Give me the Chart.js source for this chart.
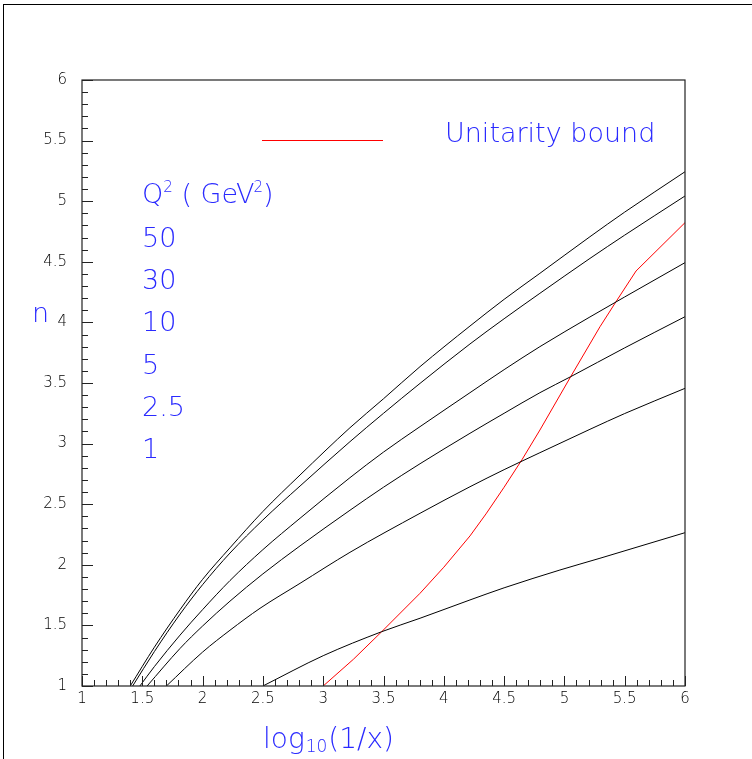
<!DOCTYPE html>
<html><head><meta charset="utf-8">
<script src="https://cdn.jsdelivr.net/npm/chart.js@4/dist/chart.umd.min.js"></script>
<style>html,body{margin:0;padding:0;background:#fff;overflow:hidden}#wrap{width:752px;height:759px;position:relative}</style>
</head><body><div id="wrap"><canvas id="c" width="752" height="759"></canvas></div>
<script>
// ---- data ----
const q50X = [1.40, 1.6, 1.813, 2.0, 2.227, 2.5, 2.808, 3.222, 3.5, 3.803, 4.217, 4.5, 4.797, 5.212, 5.5, 6.0];
const q50Y = [1.00, 1.32, 1.63, 1.88, 2.14, 2.44, 2.741, 3.131, 3.37, 3.635, 3.970, 4.19, 4.405, 4.707, 4.91, 5.243];
const q30X = [1.42, 1.6, 1.813, 2.0, 2.227, 2.5, 2.808, 3.222, 3.5, 3.803, 4.217, 4.5, 4.797, 5.212, 5.5, 6.0];
const q30Y = [1.00, 1.284, 1.593, 1.836, 2.097, 2.37, 2.650, 3.016, 3.25, 3.497, 3.822, 4.03, 4.240, 4.528, 4.72, 5.043];
const q10X = [1.48, 1.6, 1.813, 2.0, 2.227, 2.5, 2.808, 3.222, 3.5, 3.803, 4.217, 4.5, 4.797, 5.212, 5.5, 6.0];
const q10Y = [1.00, 1.16, 1.42, 1.63, 1.87, 2.125, 2.384, 2.719, 2.93, 3.14, 3.42, 3.61, 3.80, 4.045, 4.21, 4.493];
const q5X  = [1.54, 1.813, 2.0, 2.227, 2.5, 2.808, 3.222, 3.5, 3.803, 4.217, 4.5, 4.797, 5.052, 5.5, 6.0];
const q5Y  = [1.00, 1.31, 1.495, 1.70, 1.925, 2.156, 2.45, 2.64, 2.834, 3.085, 3.25, 3.42, 3.552, 3.79, 4.047];
const q25X = [1.70, 2.0, 2.227, 2.476, 2.808, 3.222, 3.803, 4.217, 4.5, 4.797, 5.212, 5.5, 6.0];
const q25Y = [1.00, 1.28, 1.46, 1.641, 1.847, 2.103, 2.425, 2.644, 2.785, 2.925, 3.118, 3.248, 3.456];
const q1X  = [2.5, 3.0, 3.485, 3.803, 4.217, 4.5, 4.963, 5.295, 6.0];
const q1Y  = [1.0, 1.25, 1.448, 1.559, 1.71, 1.81, 1.957, 2.054, 2.265];
const unitX = [3.0, 3.25, 3.485, 3.803, 4.0, 4.217, 4.35, 4.5, 4.65, 4.797, 5.052, 5.295, 5.428, 5.594, 6.0];
const unitY = [1.0, 1.22, 1.448, 1.765, 1.98, 2.238, 2.42, 2.64, 2.87, 3.112, 3.552, 3.964, 4.171, 4.424, 4.823];
const q2Labels = ['50', '30', '10', '5', '2.5', '1'];
const xTicks = [1, 1.5, 2, 2.5, 3, 3.5, 4, 4.5, 5, 5.5, 6];
const yTicks = [1, 1.5, 2, 2.5, 3, 3.5, 4, 4.5, 5, 5.5, 6];

const BLUE = '#2a2aff';
const FAM = '"DejaVu Sans", "Liberation Sans", sans-serif';
const pts = (xs, ys) => xs.map((v, i) => ({x: v, y: ys[i]}));
const curve = (xs, ys, color, smooth) => ({
  data: pts(xs, ys), showLine: true, borderColor: color, borderWidth: 1,
  pointRadius: 0, fill: false,
  cubicInterpolationMode: smooth ? 'monotone' : 'default', tension: 0
});

const deco = {
  id: 'deco',
  afterDraw(chart) {
    const {ctx, chartArea: a, scales: {x, y}} = chart;
    ctx.save();
    ctx.strokeStyle = '#000'; ctx.lineWidth = 1;
    ctx.strokeRect(3.5, 4.5, 800, 800);
    ctx.strokeStyle = '#222'; ctx.lineWidth = 1.2;
    ctx.strokeRect(a.left, a.top, a.right - a.left, a.bottom - a.top);
    ctx.lineWidth = 1; ctx.strokeStyle = '#222';
    for (let i = 10; i <= 60; i++) {
      const v = i / 10, major = i % 5 === 0;
      const px = Math.round(x.getPixelForValue(v)) + 0.5;
      ctx.beginPath(); ctx.moveTo(px, a.bottom); ctx.lineTo(px, a.bottom - (major ? 10 : 6)); ctx.stroke();
      const py = Math.round(y.getPixelForValue(v)) + 0.5;
      ctx.beginPath(); ctx.moveTo(a.left, py); ctx.lineTo(a.left + (major ? 11 : 6), py); ctx.stroke();
    }
    ctx.fillStyle = BLUE; ctx.textBaseline = 'alphabetic'; ctx.textAlign = 'left';
    const big = '200 27px ' + FAM, small = '200 15px ' + FAM;
    ctx.font = '200 27px ' + FAM; ctx.fillText('n', 32, 322);
    let cx = 263, by = 748;
    ctx.font = '200 28px ' + FAM; ctx.fillText('log', cx, by); cx += ctx.measureText('log').width + 1;
    ctx.font = '200 17px ' + FAM; ctx.fillText('10', cx, by + 4); cx += ctx.measureText('10').width + 1;
    ctx.font = '200 28px ' + FAM; ctx.fillText('(1/x)', cx, by);
    ctx.strokeStyle = '#ff0000'; ctx.lineWidth = 1;
    ctx.beginPath(); ctx.moveTo(262, 140.5); ctx.lineTo(383, 140.5); ctx.stroke();
    ctx.font = big; ctx.fillText('Unitarity bound', 445, 142);
    cx = 142; by = 203;
    ctx.font = big; ctx.fillText('Q', cx, by); cx += ctx.measureText('Q').width;
    ctx.font = small; ctx.fillText('2', cx, by - 11); cx += ctx.measureText('2').width;
    ctx.font = big; ctx.fillText(' ( GeV', cx, by); cx += ctx.measureText(' ( GeV').width;
    ctx.font = small; ctx.fillText('2', cx - 1, by - 11); cx += ctx.measureText('2').width - 1;
    ctx.font = big; ctx.fillText(')', cx, by);
    q2Labels.forEach((t, i) => { ctx.fillText(t, 142, 247 + i * 42.2); });
    ctx.restore();
  }
};

const tickFont = { family: FAM, size: 15, weight: 200 };
new Chart(document.getElementById('c'), {
  type: 'scatter',
  data: { datasets: [
    curve(q50X, q50Y, '#000', true), curve(q30X, q30Y, '#000', true), curve(q10X, q10Y, '#000', true),
    curve(q5X, q5Y, '#000', true), curve(q25X, q25Y, '#000', true), curve(q1X, q1Y, '#000', true),
    curve(unitX, unitY, '#ff0000', false)
  ]},
  options: {
    responsive: false, animation: false, devicePixelRatio: 1,
    layout: { padding: { left: 0, top: 80, right: 67, bottom: 0 } },
    plugins: { legend: { display: false }, tooltip: { enabled: false } },
    scales: {
      x: {
        type: 'linear', min: 1, max: 6, position: 'bottom',
        grid: { display: false, drawTicks: false }, border: { display: false },
        afterBuildTicks: s => { s.ticks = xTicks.map(v => ({value: v})); },
        afterFit: s => { s.height = 73; },
        ticks: { padding: 4, color: '#000', font: tickFont, maxRotation: 0, autoSkip: false, callback: v => String(v) }
      },
      y: {
        type: 'linear', min: 1, max: 6, position: 'left',
        grid: { display: false, drawTicks: false }, border: { display: false },
        afterBuildTicks: s => { s.ticks = yTicks.map(v => ({value: v})); },
        afterFit: s => { s.width = 82; },
        ticks: { padding: 15, color: '#000', font: tickFont, autoSkip: false, callback: v => String(v) }
      }
    }
  },
  plugins: [deco]
});
</script></body></html>
